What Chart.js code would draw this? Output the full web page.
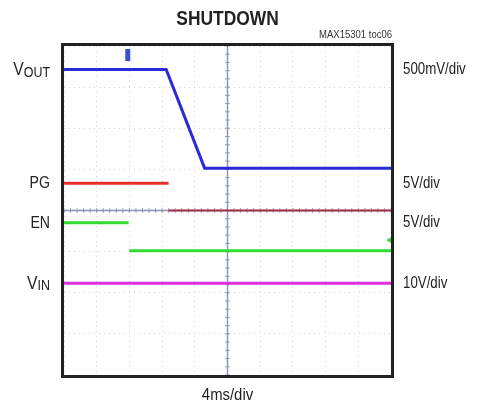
<!DOCTYPE html>
<html>
<head>
<meta charset="utf-8">
<script src="https://cdn.jsdelivr.net/npm/chart.js@4.4.1/dist/chart.umd.min.js"></script>
<style>
  html, body { margin: 0; padding: 0; background: #ffffff; }
  #wrap { width: 484px; height: 404px; position: relative; }
</style>
</head>
<body>
<div id="wrap"><canvas id="c" width="484" height="404"></canvas></div>
<script>
// ---- data (time in ms, amplitude in screen divisions from centre) ----
const title = 'SHUTDOWN';
const figId = 'MAX15301 toc06';
const xLabel = '4ms/div';
const xTicks = [0, 4, 8, 12, 16, 20, 24, 28, 32, 36, 40];
const yTicks = [-4, -3, -2, -1, 0, 1, 2, 3, 4];

const voutTime = [0, 12.5, 17.2, 40];
const voutDiv  = [3.43, 3.43, 1.03, 1.03];

const pgTime = [0, 12.8, 12.8, 12.8, 40];
const pgDiv  = [0.66, 0.66, null, 0.0, 0.0];

const enTime = [0, 7.9, 7.95, 8.0, 40];
const enDiv  = [-0.30, -0.30, null, -0.98, -0.98];

const vinTime = [0, 40];
const vinDiv  = [-1.77, -1.77];

const trigTime = [7.8];
const trigDiv  = [3.78];
const enMarkTime = [40];
const enMarkDiv  = [-0.72];

const channelNames = [['V', 'OUT'], ['PG', ''], ['EN', ''], ['V', 'IN']];
const channelLevels = [3.43, 0.66, -0.30, -1.77];
const channelScales = ['500mV/div', '5V/div', '5V/div', '10V/div'];

const pts = (xs, ys) => xs.map((x, i) => ({ x: x, y: ys[i] }));

const FONT = "'Liberation Sans', Arial, sans-serif";

function squeezedText(ctx, text, x, y, sx) {
  ctx.save();
  ctx.translate(x, y);
  ctx.scale(sx, 1);
  ctx.fillText(text, 0, 0);
  ctx.restore();
}

const scopePlugin = {
  id: 'scope',
  beforeDatasetsDraw(chart) {
    const { ctx, chartArea: a, scales: { x, y } } = chart;
    ctx.save();
    ctx.strokeStyle = '#8a93b0';
    ctx.lineWidth = 1.4;
    const cx = x.getPixelForValue(20), cy = y.getPixelForValue(0);
    ctx.beginPath();
    ctx.moveTo(cx, a.top); ctx.lineTo(cx, a.bottom);
    ctx.moveTo(a.left, cy); ctx.lineTo(a.right, cy);
    ctx.stroke();
    ctx.lineWidth = 1;
    ctx.strokeStyle = 'rgba(120,130,165,0.7)';
    ctx.beginPath();
    for (let t = 0; t <= 40.001; t += 0.8) {
      const px = x.getPixelForValue(t);
      ctx.moveTo(px, cy - 2.5); ctx.lineTo(px, cy + 2.5);
    }
    for (let v = -4; v <= 4.001; v += 0.2) {
      const py = y.getPixelForValue(v);
      ctx.moveTo(cx - 2.5, py); ctx.lineTo(cx + 2.5, py);
    }
    ctx.stroke();
    ctx.restore();
  },
  afterDraw(chart) {
    const { ctx, chartArea: a, scales: { x, y } } = chart;
    ctx.save();
    // frame
    ctx.strokeStyle = '#222222';
    ctx.lineWidth = 3;
    ctx.strokeRect(a.left - 1.5, a.top - 1.5, a.right - a.left + 3, a.bottom - a.top + 3);
    // title
    ctx.fillStyle = '#222222';
    ctx.textAlign = 'center';
    ctx.textBaseline = 'middle';
    ctx.font = "bold 20px " + FONT;
    squeezedText(ctx, title, x.getPixelForValue(20), 19, 0.87);
    // fig id
    ctx.font = "10px " + FONT;
    ctx.textAlign = 'right';
    ctx.fillStyle = '#333333';
    squeezedText(ctx, figId, a.right + 1, 35, 0.95);
    // x label
    ctx.font = "16px " + FONT;
    ctx.textAlign = 'center';
    ctx.fillStyle = '#222222';
    squeezedText(ctx, xLabel, x.getPixelForValue(20), 396, 0.93);
    // channel labels
    const SX = 0.83;
    channelNames.forEach((nm, i) => {
      const py = y.getPixelForValue(channelLevels[i]);
      const right = a.left - 14;
      ctx.textAlign = 'right';
      ctx.textBaseline = 'middle';
      if (nm[1]) {
        ctx.font = "15px " + FONT;
        const subW = ctx.measureText(nm[1]).width * SX;
        squeezedText(ctx, nm[1], right, py + 3, SX);
        ctx.font = "19px " + FONT;
        squeezedText(ctx, nm[0], right - subW, py, SX);
      } else {
        ctx.font = "17px " + FONT;
        squeezedText(ctx, nm[0], right, py, SX);
      }
      ctx.font = "16px " + FONT;
      ctx.textAlign = 'left';
      squeezedText(ctx, channelScales[i], a.right + 12, py, SX);
    });
    ctx.restore();
  }
};

new Chart(document.getElementById('c'), {
  type: 'line',
  data: {
    datasets: [
      { label: 'VIN', data: pts(vinTime, vinDiv), borderColor: '#dd30dd', borderWidth: 3 },
      { label: 'EN', data: pts(enTime, enDiv), borderColor: '#30dd30', borderWidth: 3 },
      { label: 'EN marker', data: pts(enMarkTime, enMarkDiv), showLine: false, pointRadius: 4,
        pointStyle: 'triangle', rotation: -90, pointBackgroundColor: '#30dd30', pointBorderColor: '#30dd30' },
      { label: 'PG', data: pts(pgTime, pgDiv), borderColor: '#e8302a', borderWidth: 3,
        segment: { borderColor: c => (c.p0.parsed.y < 0.3 ? '#a83048' : '#e8302a'),
                   borderWidth: c => (c.p0.parsed.y < 0.3 ? 2 : 3) } },
      { label: 'VOUT', data: pts(voutTime, voutDiv), borderColor: '#2a2ad8', borderWidth: 3 },
      { label: 'Trigger', data: pts(trigTime, trigDiv), showLine: false, pointRadius: 6,
        pointStyle: 'line', rotation: 90, pointBorderWidth: 5, pointBorderColor: '#3b4fd0' }
    ]
  },
  options: {
    responsive: false,
    animation: false,
    events: [],
    layout: { padding: { left: 64, right: 93, top: 46, bottom: 29 } },
    elements: { point: { radius: 0 }, line: { tension: 0, borderCapStyle: 'butt' } },
    plugins: { legend: { display: false }, tooltip: { enabled: false }, title: { display: false } },
    scales: {
      x: {
        type: 'linear', min: 0, max: 40,
        afterBuildTicks: s => { s.ticks = xTicks.map(v => ({ value: v })); },
        ticks: { display: false },
        grid: { color: '#d6d6d6', drawTicks: false, lineWidth: 1 },
        border: { display: false, dash: [1, 4] }
      },
      y: {
        type: 'linear', min: -4, max: 4,
        afterBuildTicks: s => { s.ticks = yTicks.map(v => ({ value: v })); },
        ticks: { display: false },
        grid: { color: '#d6d6d6', drawTicks: false, lineWidth: 1 },
        border: { display: false, dash: [1, 4] }
      }
    }
  },
  plugins: [scopePlugin]
});
</script>
</body>
</html>
